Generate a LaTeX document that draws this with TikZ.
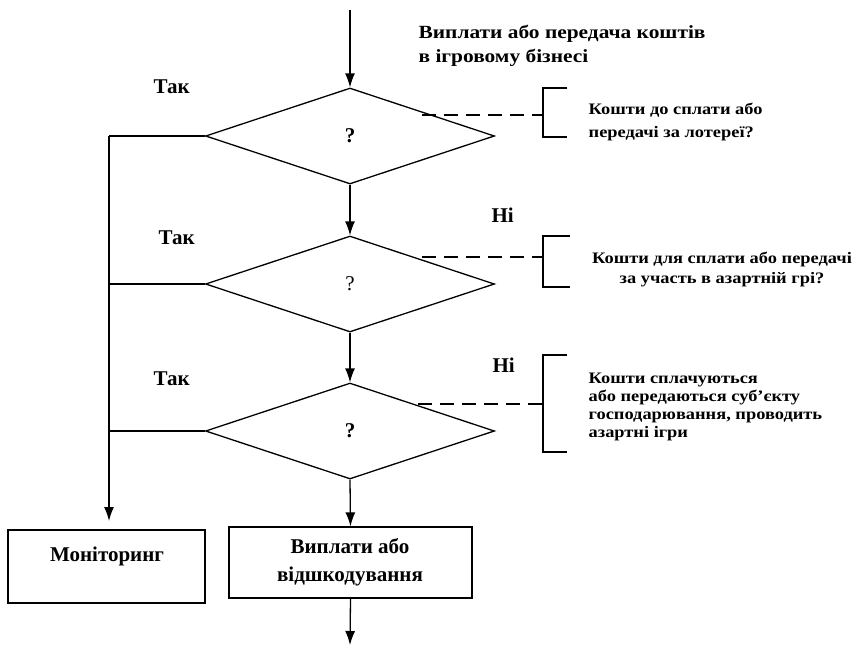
\documentclass[tikz,border=0pt]{standalone}
\usepackage{fontspec}
\setmainfont{Liberation Serif}
\newfontfamily\widefont[FakeStretch=1.15]{Liberation Serif}
\usetikzlibrary{shapes.geometric,arrows.meta}
\begin{document}
\begin{tikzpicture}[x=1pt,y=-1pt,
  line width=1.3pt,
  arr/.style={-{Latex[length=14pt,width=10pt]}},
  decision/.style={diamond,draw,inner sep=0pt,minimum width=289pt,minimum height=96pt,font=\fontsize{21}{24}\selectfont\bfseries},
  box/.style={draw,rectangle,inner sep=0pt},
  big/.style={font=\fontsize{21}{24}\selectfont\bfseries,inner sep=0pt},
  head/.style={font=\widefont\fontsize{18.6}{22}\selectfont\bfseries,inner sep=0pt},
  small/.style={font=\widefont\fontsize{16}{19}\selectfont\bfseries,inner sep=0pt},
  dashline/.style={dash pattern=on 14pt off 8pt},
]
\useasboundingbox (0,0) rectangle (862,649);
% decisions
\node[decision] (d1) at (350,136) {?};
\node[decision] (d2) at (350,284) {\mdseries ?};
\node[decision] (d3) at (350,431) {?};
% boxes
\node[box,minimum width=197pt,minimum height=73pt] (b1) at (106.5,566.5) {};
\node[big,anchor=base] (b1t) at (107,561) {Моніторинг};
\node[box,minimum width=243pt,minimum height=71pt] (b2) at (350.5,562.5) {};
\node[big,anchor=base] (b2t1) at (350,553) {Виплати або};
\node[big,anchor=base] (b2t2) at (350,581) {відшкодування};
% coordinates
\coordinate (start) at (350,10);
\coordinate (end) at (350,645);
\coordinate (l1) at (109,136);
\coordinate (l2) at (109,284);
\coordinate (l3) at (109,431);
\coordinate (lend) at (109,521);
% main flow
\draw[arr] (start) -- (d1.north);
\draw[arr] (d1.south) -- (d2.north);
\draw[arr] (d2.south) -- (d3.north);
\draw[arr] (d3.south) -- (b2.north);
\draw[arr] (b2.south) -- (end);
% left flow
\draw (d1.west) -- (l1);
\draw (d2.west) -- (l2);
\draw (d3.west) -- (l3);
\draw[arr] (l1) -- (lend);
% dashed connectors and brackets
\coordinate (e1) at (422,115); \coordinate (k1) at (543,115);
\coordinate (e2) at (422,257); \coordinate (k2) at (543,257);
\coordinate (e3) at (418,404); \coordinate (k3) at (543,404);
\draw[dashline] (e1) -- (k1);
\draw[dashline] (e2) -- (k2);
\draw[dashline] (e3) -- (k3);
\coordinate (p1a) at (567,88); \coordinate (p1b) at (543,88); \coordinate (p1c) at (543,137); \coordinate (p1d) at (567,137);
\coordinate (p2a) at (570,236); \coordinate (p2b) at (543,236); \coordinate (p2c) at (543,287); \coordinate (p2d) at (570,287);
\coordinate (p3a) at (567,355); \coordinate (p3b) at (543,355); \coordinate (p3c) at (543,452); \coordinate (p3d) at (567,452);
\draw (p1a) -- (p1b) -- (p1c) -- (p1d);
\draw (p2a) -- (p2b) -- (p2c) -- (p2d);
\draw (p3a) -- (p3b) -- (p3c) -- (p3d);
% header
\node[head,anchor=base west] (h1) at (418,38.5) {Виплати або передача коштів};
\node[head,anchor=base west] (h2) at (418,62.5) {в ігровому бізнесі};
% side texts
\node[small,anchor=base west] (s11) at (588,114) {Кошти до сплати або};
\node[small,anchor=base west] (s12) at (588,137) {передачі за лотереї?};
\node[small,anchor=base] (s21) at (722,263) {Кошти для сплати або передачі};
\node[small,anchor=base] (s22) at (722,283) {за участь в азартній грі?};
\node[small,anchor=base west] (s31) at (588,383) {Кошти сплачуються};
\node[small,anchor=base west] (s32) at (588,401) {або передаються суб’єкту};
\node[small,anchor=base west] (s33) at (588,419) {господарювання, проводить};
\node[small,anchor=base west] (s34) at (588,437) {азартні ігри};
% yes / no labels
\node[big,anchor=base west] (y1) at (153,93.5) {Так};
\node[big,anchor=base west] (y2) at (158,244) {Так};
\node[big,anchor=base west] (y3) at (153,385) {Так};
\node[big,anchor=base west] (n1) at (491,222) {Ні};
\node[big,anchor=base west] (n2) at (492,372) {Ні};
\end{tikzpicture}
\end{document}
